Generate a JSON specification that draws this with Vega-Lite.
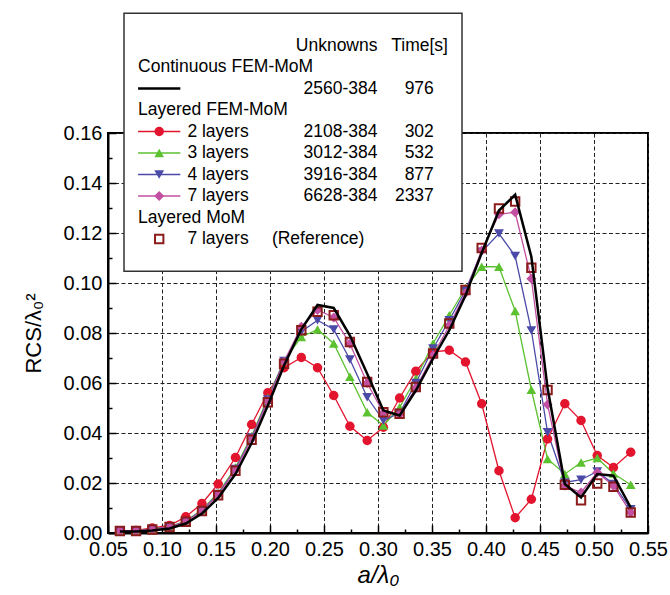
{
  "$schema": "https://vega.github.io/schema/vega-lite/v6.json",
  "autosize": "none",
  "width": 540,
  "height": 400,
  "padding": {"left": 108, "top": 133, "right": 22, "bottom": 62},
  "background": "white",
  "config": {
    "font": "Liberation Sans",
    "view": {"stroke": "black", "strokeWidth": 2},
    "axis": {"labelFont": "Liberation Sans", "titleFont": "Liberation Sans", "labelColor": "black", "titleColor": "black", "titleFontWeight": "normal"}
  },
  "datasets": {
    "curves": [
      {"s":"2 layers","x":0.061,"y":0.0009},{"s":"2 layers","x":0.076,"y":0.0010},{"s":"2 layers","x":0.091,"y":0.0020},{"s":"2 layers","x":0.107,"y":0.0030},{"s":"2 layers","x":0.122,"y":0.0065},{"s":"2 layers","x":0.137,"y":0.0118},{"s":"2 layers","x":0.152,"y":0.0196},{"s":"2 layers","x":0.168,"y":0.0302},{"s":"2 layers","x":0.183,"y":0.0434},{"s":"2 layers","x":0.198,"y":0.0561},{"s":"2 layers","x":0.213,"y":0.0661},{"s":"2 layers","x":0.229,"y":0.0702},{"s":"2 layers","x":0.244,"y":0.0661},{"s":"2 layers","x":0.259,"y":0.0550},{"s":"2 layers","x":0.274,"y":0.0427},{"s":"2 layers","x":0.290,"y":0.0370},{"s":"2 layers","x":0.305,"y":0.0423},{"s":"2 layers","x":0.320,"y":0.0540},{"s":"2 layers","x":0.335,"y":0.0647},{"s":"2 layers","x":0.351,"y":0.0725},{"s":"2 layers","x":0.366,"y":0.0731},{"s":"2 layers","x":0.381,"y":0.0684},{"s":"2 layers","x":0.396,"y":0.0517},{"s":"2 layers","x":0.412,"y":0.0249},{"s":"2 layers","x":0.427,"y":0.0061},{"s":"2 layers","x":0.442,"y":0.0135},{"s":"2 layers","x":0.457,"y":0.0376},{"s":"2 layers","x":0.473,"y":0.0517},{"s":"2 layers","x":0.488,"y":0.0450},{"s":"2 layers","x":0.503,"y":0.0310},{"s":"2 layers","x":0.518,"y":0.0262},{"s":"2 layers","x":0.534,"y":0.0323},
      {"s":"3 layers","x":0.061,"y":0.0008},{"s":"3 layers","x":0.076,"y":0.0008},{"s":"3 layers","x":0.091,"y":0.0015},{"s":"3 layers","x":0.107,"y":0.0026},{"s":"3 layers","x":0.122,"y":0.0048},{"s":"3 layers","x":0.137,"y":0.0093},{"s":"3 layers","x":0.152,"y":0.0160},{"s":"3 layers","x":0.168,"y":0.0262},{"s":"3 layers","x":0.183,"y":0.0388},{"s":"3 layers","x":0.198,"y":0.0540},{"s":"3 layers","x":0.213,"y":0.0690},{"s":"3 layers","x":0.229,"y":0.0784},{"s":"3 layers","x":0.244,"y":0.0814},{"s":"3 layers","x":0.259,"y":0.0758},{"s":"3 layers","x":0.274,"y":0.0625},{"s":"3 layers","x":0.290,"y":0.0483},{"s":"3 layers","x":0.305,"y":0.0430},{"s":"3 layers","x":0.320,"y":0.0503},{"s":"3 layers","x":0.335,"y":0.0617},{"s":"3 layers","x":0.351,"y":0.0758},{"s":"3 layers","x":0.366,"y":0.0871},{"s":"3 layers","x":0.381,"y":0.0980},{"s":"3 layers","x":0.396,"y":0.1065},{"s":"3 layers","x":0.412,"y":0.1065},{"s":"3 layers","x":0.427,"y":0.0888},{"s":"3 layers","x":0.442,"y":0.0573},{"s":"3 layers","x":0.457,"y":0.0296},{"s":"3 layers","x":0.473,"y":0.0236},{"s":"3 layers","x":0.488,"y":0.0282},{"s":"3 layers","x":0.503,"y":0.0300},{"s":"3 layers","x":0.518,"y":0.0238},{"s":"3 layers","x":0.534,"y":0.0193},
      {"s":"4 layers","x":0.061,"y":0.0008},{"s":"4 layers","x":0.076,"y":0.0008},{"s":"4 layers","x":0.091,"y":0.0015},{"s":"4 layers","x":0.107,"y":0.0025},{"s":"4 layers","x":0.122,"y":0.0046},{"s":"4 layers","x":0.137,"y":0.0090},{"s":"4 layers","x":0.152,"y":0.0156},{"s":"4 layers","x":0.168,"y":0.0256},{"s":"4 layers","x":0.183,"y":0.0382},{"s":"4 layers","x":0.198,"y":0.0534},{"s":"4 layers","x":0.213,"y":0.0688},{"s":"4 layers","x":0.229,"y":0.0805},{"s":"4 layers","x":0.244,"y":0.0851},{"s":"4 layers","x":0.259,"y":0.0814},{"s":"4 layers","x":0.274,"y":0.0694},{"s":"4 layers","x":0.290,"y":0.0543},{"s":"4 layers","x":0.305,"y":0.0450},{"s":"4 layers","x":0.320,"y":0.0480},{"s":"4 layers","x":0.335,"y":0.0600},{"s":"4 layers","x":0.351,"y":0.0738},{"s":"4 layers","x":0.366,"y":0.0851},{"s":"4 layers","x":0.381,"y":0.0970},{"s":"4 layers","x":0.396,"y":0.1125},{"s":"4 layers","x":0.412,"y":0.1198},{"s":"4 layers","x":0.427,"y":0.1108},{"s":"4 layers","x":0.442,"y":0.0810},{"s":"4 layers","x":0.457,"y":0.0403},{"s":"4 layers","x":0.473,"y":0.0202},{"s":"4 layers","x":0.488,"y":0.0213},{"s":"4 layers","x":0.503,"y":0.0246},{"s":"4 layers","x":0.518,"y":0.0196},{"s":"4 layers","x":0.534,"y":0.0095},
      {"s":"7 layers","x":0.061,"y":0.0008},{"s":"7 layers","x":0.076,"y":0.0008},{"s":"7 layers","x":0.091,"y":0.0014},{"s":"7 layers","x":0.107,"y":0.0024},{"s":"7 layers","x":0.122,"y":0.0045},{"s":"7 layers","x":0.137,"y":0.0088},{"s":"7 layers","x":0.152,"y":0.0153},{"s":"7 layers","x":0.168,"y":0.0252},{"s":"7 layers","x":0.183,"y":0.0378},{"s":"7 layers","x":0.198,"y":0.0528},{"s":"7 layers","x":0.213,"y":0.0685},{"s":"7 layers","x":0.229,"y":0.0825},{"s":"7 layers","x":0.244,"y":0.0892},{"s":"7 layers","x":0.259,"y":0.0862},{"s":"7 layers","x":0.274,"y":0.0757},{"s":"7 layers","x":0.290,"y":0.0600},{"s":"7 layers","x":0.305,"y":0.0480},{"s":"7 layers","x":0.320,"y":0.0475},{"s":"7 layers","x":0.335,"y":0.0580},{"s":"7 layers","x":0.351,"y":0.0710},{"s":"7 layers","x":0.366,"y":0.0830},{"s":"7 layers","x":0.381,"y":0.0960},{"s":"7 layers","x":0.396,"y":0.1130},{"s":"7 layers","x":0.412,"y":0.1275},{"s":"7 layers","x":0.427,"y":0.1283},{"s":"7 layers","x":0.442,"y":0.1017},{"s":"7 layers","x":0.457,"y":0.0514},{"s":"7 layers","x":0.473,"y":0.0189},{"s":"7 layers","x":0.488,"y":0.0162},{"s":"7 layers","x":0.503,"y":0.0242},{"s":"7 layers","x":0.518,"y":0.0189},{"s":"7 layers","x":0.534,"y":0.0082},
      {"s":"Reference","x":0.061,"y":0.0008},{"s":"Reference","x":0.076,"y":0.0008},{"s":"Reference","x":0.091,"y":0.0014},{"s":"Reference","x":0.107,"y":0.0024},{"s":"Reference","x":0.122,"y":0.0045},{"s":"Reference","x":0.137,"y":0.0088},{"s":"Reference","x":0.152,"y":0.0151},{"s":"Reference","x":0.168,"y":0.0249},{"s":"Reference","x":0.183,"y":0.0373},{"s":"Reference","x":0.198,"y":0.0523},{"s":"Reference","x":0.213,"y":0.0677},{"s":"Reference","x":0.229,"y":0.0811},{"s":"Reference","x":0.244,"y":0.0885},{"s":"Reference","x":0.259,"y":0.0871},{"s":"Reference","x":0.274,"y":0.0764},{"s":"Reference","x":0.290,"y":0.0604},{"s":"Reference","x":0.305,"y":0.0483},{"s":"Reference","x":0.320,"y":0.0477},{"s":"Reference","x":0.335,"y":0.0584},{"s":"Reference","x":0.351,"y":0.0718},{"s":"Reference","x":0.366,"y":0.0838},{"s":"Reference","x":0.381,"y":0.0972},{"s":"Reference","x":0.396,"y":0.1140},{"s":"Reference","x":0.412,"y":0.1298},{"s":"Reference","x":0.427,"y":0.1326},{"s":"Reference","x":0.442,"y":0.1061},{"s":"Reference","x":0.457,"y":0.0572},{"s":"Reference","x":0.473,"y":0.0193},{"s":"Reference","x":0.488,"y":0.0131},{"s":"Reference","x":0.503,"y":0.0198},{"s":"Reference","x":0.518,"y":0.0185},{"s":"Reference","x":0.534,"y":0.0082},
      {"s":"Continuous","x":0.061,"y":0.0006},{"s":"Continuous","x":0.076,"y":0.0006},{"s":"Continuous","x":0.091,"y":0.0010},{"s":"Continuous","x":0.107,"y":0.0018},{"s":"Continuous","x":0.122,"y":0.0038},{"s":"Continuous","x":0.137,"y":0.0078},{"s":"Continuous","x":0.152,"y":0.0140},{"s":"Continuous","x":0.168,"y":0.0236},{"s":"Continuous","x":0.183,"y":0.0360},{"s":"Continuous","x":0.198,"y":0.0510},{"s":"Continuous","x":0.213,"y":0.0670},{"s":"Continuous","x":0.229,"y":0.0815},{"s":"Continuous","x":0.244,"y":0.0912},{"s":"Continuous","x":0.259,"y":0.0900},{"s":"Continuous","x":0.274,"y":0.0790},{"s":"Continuous","x":0.290,"y":0.0637},{"s":"Continuous","x":0.305,"y":0.0490},{"s":"Continuous","x":0.320,"y":0.0470},{"s":"Continuous","x":0.335,"y":0.0570},{"s":"Continuous","x":0.351,"y":0.0698},{"s":"Continuous","x":0.366,"y":0.0811},{"s":"Continuous","x":0.381,"y":0.0950},{"s":"Continuous","x":0.396,"y":0.1120},{"s":"Continuous","x":0.412,"y":0.1290},{"s":"Continuous","x":0.427,"y":0.1353},{"s":"Continuous","x":0.442,"y":0.1105},{"s":"Continuous","x":0.457,"y":0.0580},{"s":"Continuous","x":0.473,"y":0.0196},{"s":"Continuous","x":0.488,"y":0.0142},{"s":"Continuous","x":0.503,"y":0.0236},{"s":"Continuous","x":0.518,"y":0.0229},{"s":"Continuous","x":0.534,"y":0.0102}
    ],
    "legendText": [
      {"line":"1","col":"unk","text":"Unknowns"},
      {"line":"1","col":"thdr","text":"Time[s]"},
      {"line":"2","col":"grp","text":"Continuous FEM-MoM"},
      {"line":"3","col":"unk","text":"2560-384"},
      {"line":"3","col":"time","text":"976"},
      {"line":"4","col":"grp","text":"Layered FEM-MoM"},
      {"line":"5","col":"name","text":"2 layers"},
      {"line":"5","col":"unk","text":"2108-384"},
      {"line":"5","col":"time","text":"302"},
      {"line":"6","col":"name","text":"3 layers"},
      {"line":"6","col":"unk","text":"3012-384"},
      {"line":"6","col":"time","text":"532"},
      {"line":"7","col":"name","text":"4 layers"},
      {"line":"7","col":"unk","text":"3916-384"},
      {"line":"7","col":"time","text":"877"},
      {"line":"8","col":"name","text":"7 layers"},
      {"line":"8","col":"unk","text":"6628-384"},
      {"line":"8","col":"time","text":"2337"},
      {"line":"9","col":"grp","text":"Layered MoM"},
      {"line":"10","col":"name","text":"7 layers"},
      {"line":"10","col":"ref","text":"(Reference)"}
    ],
    "legendKeys": [
      {"line":"3","s":"Continuous"},
      {"line":"5","s":"2 layers"},
      {"line":"6","s":"3 layers"},
      {"line":"7","s":"4 layers"},
      {"line":"8","s":"7 layers"},
      {"line":"10","s":"Reference"}
    ]
  },
  "layer": [
    {
      "data": {"name": "curves"},
      "encoding": {
        "x": {"field": "x", "type": "quantitative",
          "scale": {"domain": [0.05, 0.55], "nice": false, "zero": false},
          "axis": {
            "values": [0.05,0.075,0.1,0.125,0.15,0.175,0.2,0.225,0.25,0.275,0.3,0.325,0.35,0.375,0.4,0.425,0.45,0.475,0.5,0.525,0.55],
            "format": ".2f",
            "labelExpr": "round(datum.value*1000) % 50 === 0 ? datum.label : ''",
            "labelFontSize": 20, "labelPadding": 14, "labelFlush": false,
            "grid": true, "gridDash": [4, 2.5], "gridWidth": 1,
            "gridColor": {"condition": {"test": "round(datum.value*1000) % 50 !== 0", "value": "rgba(0,0,0,0)"}, "value": "#222222"},
            "tickColor": "black", "tickWidth": 1.5,
            "tickSize": {"condition": {"test": "round(datum.value*1000) % 50 !== 0", "value": -4}, "value": -8},
            "domainColor": "black", "domainWidth": 2,
            "title": "a/λ₀", "titleFontSize": 24, "titleFontStyle": "italic", "titlePadding": 4
          }
        },
        "y": {"field": "y", "type": "quantitative",
          "scale": {"domain": [0, 0.16], "nice": false},
          "axis": {
            "values": [0,0.01,0.02,0.03,0.04,0.05,0.06,0.07,0.08,0.09,0.1,0.11,0.12,0.13,0.14,0.15,0.16],
            "format": ".2f",
            "labelExpr": "round(datum.value*100) % 2 === 0 ? datum.label : ''",
            "labelFontSize": 20, "labelPadding": 14, "labelFlush": false,
            "grid": true, "gridDash": [4, 2.5], "gridWidth": 1,
            "gridColor": {"condition": {"test": "round(datum.value*100) % 2 !== 0", "value": "rgba(0,0,0,0)"}, "value": "#222222"},
            "tickColor": "black", "tickWidth": 1.5,
            "tickSize": {"condition": {"test": "round(datum.value*100) % 2 !== 0", "value": -4}, "value": -8},
            "domainColor": "black", "domainWidth": 2,
            "title": "RCS/λ₀²", "titleFontSize": 22, "titlePadding": 18
          }
        },
        "color": {"field": "s", "type": "nominal", "legend": null,
          "scale": {"domain": ["2 layers","3 layers","4 layers","7 layers","Reference","Continuous"],
                    "range": ["#e3142d","#5cc12f","#4b4aa8","#c24fa2","#8c1c1c","#000000"]}}
      },
      "layer": [
        {
          "transform": [{"filter": "datum.s !== 'Reference' && datum.s !== 'Continuous'"}],
          "mark": {"type": "line", "strokeWidth": 1.3},
          "encoding": {"detail": {"field": "s"}}
        },
        {
          "transform": [{"filter": "datum.s !== 'Reference' && datum.s !== 'Continuous'"}],
          "mark": {"type": "point", "filled": true, "opacity": 1},
          "encoding": {
            "shape": {"field": "s", "type": "nominal", "legend": null,
              "scale": {"domain": ["2 layers","3 layers","4 layers","7 layers"], "range": ["circle","triangle-up","triangle-down","diamond"]}},
            "size": {"field": "s", "type": "nominal", "legend": null,
              "scale": {"domain": ["2 layers","3 layers","4 layers","7 layers"], "range": [90, 100, 100, 140]}}
          }
        },
        {
          "transform": [{"filter": "datum.s === 'Reference'"}],
          "mark": {"type": "square", "filled": false, "strokeWidth": 2, "size": 70, "opacity": 1}
        },
        {
          "transform": [{"filter": "datum.s === 'Continuous'"}],
          "mark": {"type": "line", "strokeWidth": 2.5}
        }
      ]
    },
    {
      "layer": [
        {
          "data": {"values": [{}]},
          "mark": {"type": "rect", "fill": "white", "stroke": "#333", "strokeWidth": 1.5},
          "encoding": {
            "x": {"datum": "boxL", "type": "nominal", "axis": null,
              "scale": {"type": "point", "padding": 0, "range": [16, 354], "domain": ["boxL","c1","grp","c3","c4","sym","c6","c7","lineR","name","c10","c11","c12","c13","c14","c15","c16","c17","c18","c19","c20","ref","c22","c23","c24","c25","c26","c27","c28","c29","c30","c31","c32","c33","c34","c35","unk","c37","c38","c39","c40","c41","c42","c43","time","c45","thdr","c47","boxR"]}},
            "x2": {"datum": "boxR"},
            "y": {"datum": "top", "type": "nominal", "axis": null,
              "scale": {"type": "point", "padding": 0, "range": [-119.75, 138.25], "domain": ["top","t1","t2","1","1.5","2","2.5","3","3.5","4","4.5","5","5.5","6","6.5","7","7.5","8","8.5","9","9.5","10","b1","b2","bot"]}},
            "y2": {"datum": "bot"}
          }
        },
        {
          "data": {"name": "legendKeys"},
          "transform": [{"filter": "datum.s !== 'Reference' && datum.s !== 'Continuous'"}],
          "mark": {"type": "rule", "strokeWidth": 1.3},
          "encoding": {
            "x": {"datum": "grp", "type": "nominal", "axis": null},
            "x2": {"datum": "lineR"},
            "y": {"field": "line", "type": "nominal", "axis": null},
            "color": {"field": "s", "type": "nominal", "legend": null}
          }
        },
        {
          "data": {"name": "legendKeys"},
          "transform": [{"filter": "datum.s === 'Continuous'"}],
          "mark": {"type": "rule", "strokeWidth": 2.5},
          "encoding": {
            "x": {"datum": "grp", "type": "nominal", "axis": null},
            "x2": {"datum": "lineR"},
            "y": {"field": "line", "type": "nominal", "axis": null},
            "color": {"field": "s", "type": "nominal", "legend": null}
          }
        },
        {
          "data": {"name": "legendKeys"},
          "transform": [{"filter": "datum.s !== 'Reference' && datum.s !== 'Continuous'"}],
          "mark": {"type": "point", "filled": true, "opacity": 1},
          "encoding": {
            "x": {"datum": "sym", "type": "nominal", "axis": null},
            "y": {"field": "line", "type": "nominal", "axis": null},
            "color": {"field": "s", "type": "nominal", "legend": null},
            "shape": {"field": "s", "type": "nominal", "legend": null},
            "size": {"field": "s", "type": "nominal", "legend": null}
          }
        },
        {
          "data": {"name": "legendKeys"},
          "transform": [{"filter": "datum.s === 'Reference'"}],
          "mark": {"type": "square", "filled": false, "strokeWidth": 2, "size": 70, "opacity": 1},
          "encoding": {
            "x": {"datum": "sym", "type": "nominal", "axis": null},
            "y": {"field": "line", "type": "nominal", "axis": null},
            "color": {"field": "s", "type": "nominal", "legend": null}
          }
        },
        {
          "data": {"name": "legendText"},
          "transform": [{"filter": "datum.col === 'grp' || datum.col === 'name' || datum.col === 'ref'"}],
          "mark": {"type": "text", "align": "left", "baseline": "middle", "font": "Liberation Sans", "fontSize": 17.5, "color": "black"},
          "encoding": {
            "x": {"field": "col", "type": "nominal", "axis": null},
            "y": {"field": "line", "type": "nominal", "axis": null},
            "text": {"field": "text"}
          }
        },
        {
          "data": {"name": "legendText"},
          "transform": [{"filter": "datum.col === 'unk' || datum.col === 'time' || datum.col === 'thdr'"}],
          "mark": {"type": "text", "align": "right", "baseline": "middle", "font": "Liberation Sans", "fontSize": 17.5, "color": "black"},
          "encoding": {
            "x": {"field": "col", "type": "nominal", "axis": null},
            "y": {"field": "line", "type": "nominal", "axis": null},
            "text": {"field": "text"}
          }
        }
      ]
    }
  ],
  "resolve": {"scale": {"x": "independent", "y": "independent"}, "axis": {"x": "independent", "y": "independent"}}
}
